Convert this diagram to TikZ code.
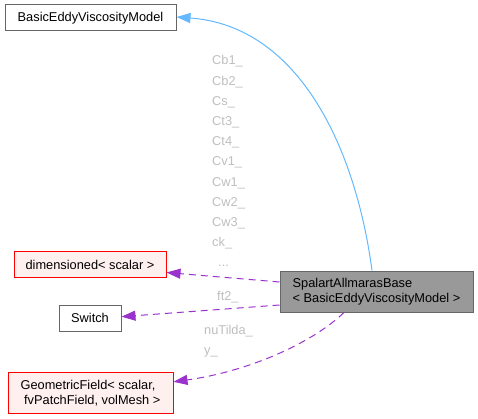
\documentclass[tikz,border=0pt]{standalone}
\usepackage{fontspec}
\setmainfont{Liberation Sans}
\usetikzlibrary{arrows.meta}
\definecolor{edgeblue}{HTML}{63B8FF}
\definecolor{edgepurple}{HTML}{9A32CD}
\definecolor{boxgray}{HTML}{666666}
\definecolor{mainfill}{HTML}{999999}
\definecolor{pinkfill}{HTML}{FFF0F0}
\definecolor{labelgray}{HTML}{BEBEBE}
\tikzset{
  base/.style={inner sep=0pt, line width=1pt, font=\fontsize{12.8}{15}\selectfont, align=left},
  plainbox/.style={base, draw=boxgray, fill=white},
  redbox/.style={base, draw=red, fill=pinkfill},
  mainbox/.style={base, draw=boxgray, fill=mainfill},
  elabel/.style={inner sep=0pt, anchor=base west, text=labelgray, font=\fontsize{12.8}{15}\selectfont},
  inherit/.style={draw=edgeblue, line width=1pt, -{Triangle[length=14pt,width=10pt]}},
  usage/.style={draw=edgepurple, line width=1pt, dash pattern=on 7pt off 5pt, -{Triangle[length=14pt,width=10pt]}}
}
\begin{document}
\begin{tikzpicture}[x=1pt,y=-1pt]
\useasboundingbox (0,0) rectangle (478,419);
\node[plainbox, minimum width=171pt, minimum height=26pt] (bem) at (90.5,18) {BasicEddyViscosityModel};
\node[redbox, minimum width=152pt, minimum height=25.5pt] (dim) at (90,264.5) {dimensioned< scalar >};
\node[plainbox, minimum width=62pt, minimum height=26pt] (sw) at (90,318) {Switch};
\node[redbox, minimum width=165pt, minimum height=41pt] (geo) at (90.5,392.8) {GeometricField< scalar,\\\ fvPatchField, volMesh >};
\node[mainbox, minimum width=193pt, minimum height=41pt] (spa) at (376.5,291.5) {SpalartAllmarasBase\\< BasicEddyViscosityModel >};

\node[elabel] (l1) at (212,65) {Cb1\_};
\node[elabel] (l2) at (212,85.2) {Cb2\_};
\node[elabel] (l3) at (212,105.4) {Cs\_};
\node[elabel] (l4) at (212,125.6) {Ct3\_};
\node[elabel] (l5) at (212,145.8) {Ct4\_};
\node[elabel] (l6) at (212,166) {Cv1\_};
\node[elabel] (l7) at (212,186.2) {Cw1\_};
\node[elabel] (l8) at (212,206.4) {Cw2\_};
\node[elabel] (l9) at (212,226.6) {Cw3\_};
\node[elabel] (l10) at (212,246.8) {ck\_};
\node[elabel] (l11) at (218,266.5) {...};
\node[elabel] (l12) at (217,300) {ft2\_};
\node[elabel] (l13) at (204,334) {nuTilda\_};
\node[elabel] (l14) at (204,354) {y\_};

\draw[inherit] ([xshift=-4.5pt]spa.north) .. controls (356,150) and (300,26) .. ([yshift=1pt]bem.east);
\draw[usage] ([yshift=9.5pt]spa.west) -- ([yshift=-8pt]dim.east);
\draw[usage] ([yshift=-13.5pt]spa.west) -- ([yshift=1.3pt]sw.east);
\draw[usage] ([xshift=-32.5pt]spa.south) .. controls (310,345) and (245,372) .. ([yshift=11pt]geo.east);
\end{tikzpicture}
\end{document}
